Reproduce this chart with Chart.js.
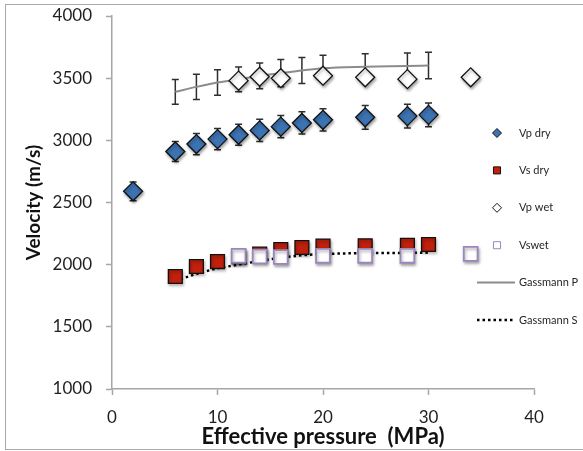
<!DOCTYPE html>
<html>
<head>
<meta charset="utf-8">
<script src="https://cdn.jsdelivr.net/npm/chart.js@4.4.0/dist/chart.umd.min.js"></script>
<style>
  html, body { margin: 0; padding: 0; background: #fff; overflow: hidden; }
  #wrap { position: relative; width: 583px; height: 451px; }
  #frame { position: absolute; left: 5px; top: 4px; width: 600px; height: 446px; border: 1px solid #a9a9a9; box-sizing: border-box; }
  canvas { position: absolute; left: 0; top: 0; }
</style>
</head>
<body>
<div id="wrap">
  <div id="frame"></div>
  <canvas id="velChart" width="583" height="451"></canvas>
</div>
<script>
// Velocity vs effective pressure
const vpDryP = [2, 6, 8, 10, 12, 14, 16, 18, 20, 24, 28, 30];
const vpDry = [2590, 2910, 2970, 3010, 3045, 3080, 3110, 3140, 3165, 3185, 3195, 3205];
const vpDryErr = [75, 80, 85, 85, 85, 90, 90, 90, 90, 95, 95, 95];

const vsDryP = [6, 8, 10, 12, 14, 16, 18, 20, 24, 28, 30];
const vsDry = [1905, 1985, 2025, 2065, 2085, 2122, 2138, 2150, 2152, 2155, 2162];

const wetP = [12, 14, 16, 20, 24, 28, 34];
const vpWet = [3480, 3512, 3500, 3520, 3507, 3492, 3507];
const vsWet = [2071, 2066, 2062, 2071, 2071, 2071, 2087];

const gassP = [6, 8, 10, 12, 14, 16, 18, 20, 24, 28, 30];
const gassmannP = [3390, 3430, 3465, 3490, 3518, 3540, 3562, 3580, 3592, 3598, 3602];
const gassmannPErr = [100, 102, 103, 100, 104, 110, 104, 105, 105, 105, 107];
const gassmannS = [1870, 1925, 1970, 2000, 2030, 2055, 2075, 2085, 2093, 2095, 2097];

const xTicks = [0, 10, 20, 30, 40];
const yTicks = [1000, 1500, 2000, 2500, 3000, 3500, 4000];

function pts(xs, ys) {
    return xs.map((x, i) => ({ x: x, y: ys[i] }));
}

const FONT = 'Lato, "Open Sans", sans-serif';

// error bars drawn under the markers
const errorBars = {
    id: 'errorBars',
    beforeDatasetsDraw(chart) {
        const ctx = chart.ctx;
        const xs = chart.scales.x, ys = chart.scales.y;
        ctx.save();
        ctx.strokeStyle = '#2e2e2e';
        ctx.lineWidth = 1.5;
        chart.data.datasets.forEach(ds => {
            if (!ds.errors) return;
            ds.data.forEach((p, i) => {
                const x = xs.getPixelForValue(p.x);
                const top = ys.getPixelForValue(p.y + ds.errors[i]);
                const bot = ys.getPixelForValue(p.y - ds.errors[i]);
                ctx.beginPath();
                ctx.moveTo(x, top); ctx.lineTo(x, bot);
                ctx.moveTo(x - 3.5, top); ctx.lineTo(x + 3.5, top);
                ctx.moveTo(x - 3.5, bot); ctx.lineTo(x + 3.5, bot);
                ctx.stroke();
            });
        });
        ctx.restore();
    }
};

// soft drop shadow on the markers, like the spreadsheet
const markerShadow = {
    id: 'markerShadow',
    beforeDatasetDraw(chart, args) {
        const ds = chart.data.datasets[args.index];
        const ctx = chart.ctx;
        ctx.save();
        if (ds.shadow) {
            ctx.shadowColor = 'rgba(0,0,0,0.35)';
            ctx.shadowBlur = 3;
            ctx.shadowOffsetX = 1;
            ctx.shadowOffsetY = 2;
        }
    },
    afterDatasetDraw(chart) {
        chart.ctx.restore();
    }
};

// legend on the right, one row per dataset
const sideLegend = {
    id: 'sideLegend',
    afterDraw(chart) {
        const ctx = chart.ctx;
        const o = chart.options.plugins.sideLegend;
        ctx.save();
        chart.data.datasets.forEach((ds, i) => {
            const y = o.top + i * o.step;
            ctx.fillStyle = ds.backgroundColor;
            ctx.strokeStyle = ds.borderColor;
            if (ds.showLine) {
                ctx.lineWidth = ds.borderWidth;
                ctx.setLineDash(ds.borderDash || []);
                ctx.beginPath();
                ctx.moveTo(o.lineStart, y);
                ctx.lineTo(o.lineEnd, y);
                ctx.stroke();
                ctx.setLineDash([]);
            } else {
                Chart.helpers.drawPoint(ctx, {
                    pointStyle: ds.pointStyle,
                    radius: ds.pointStyle === 'rectRot' ? 4.5 : 5,
                    rotation: 0,
                    borderWidth: 1.2
                }, o.markerX, y);
            }
            ctx.fillStyle = '#262626';
            ctx.font = '11px ' + FONT;
            ctx.textAlign = 'left';
            ctx.textBaseline = 'middle';
            ctx.fillText(ds.label, ds.showLine ? o.lineText : o.textX, y);
        });
        ctx.restore();
    }
};

const ctx1 = document.getElementById('velChart').getContext('2d');
const velChart = new Chart(ctx1, {
    type: 'scatter',
    data: {
        datasets: [
            {
                label: 'Vp dry',
                data: pts(vpDryP, vpDry),
                errors: vpDryErr,
                pointStyle: 'rectRot',
                pointRadius: 9.5,
                backgroundColor: '#3c73b2',
                borderColor: '#111111',
                borderWidth: 1.3,
                shadow: true,
                order: 4
            },
            {
                label: 'Vs dry',
                data: pts(vsDryP, vsDry),
                pointStyle: 'rect',
                pointRadius: 9.8,
                backgroundColor: '#c0200c',
                borderColor: '#111111',
                borderWidth: 1.3,
                shadow: true,
                order: 3
            },
            {
                label: 'Vp wet',
                data: pts(wetP, vpWet),
                pointStyle: 'rectRot',
                pointRadius: 9.5,
                backgroundColor: '#ffffff',
                borderColor: '#111111',
                borderWidth: 1.3,
                shadow: true,
                order: 2
            },
            {
                label: 'Vswet',
                data: pts(wetP, vsWet),
                pointStyle: 'rect',
                pointRadius: 9.8,
                backgroundColor: '#ffffff',
                borderColor: '#9c86bd',
                borderWidth: 1.8,
                shadow: true,
                order: 1
            },
            {
                label: 'Gassmann P',
                data: pts(gassP, gassmannP),
                errors: gassmannPErr,
                showLine: true,
                cubicInterpolationMode: 'monotone',
                pointRadius: 0,
                backgroundColor: '#8c8c8c',
                borderColor: '#8c8c8c',
                borderWidth: 2,
                order: 6
            },
            {
                label: 'Gassmann S',
                data: pts(gassP, gassmannS),
                showLine: true,
                cubicInterpolationMode: 'monotone',
                pointRadius: 0,
                backgroundColor: '#000000',
                borderColor: '#000000',
                borderWidth: 2.5,
                borderDash: [2.5, 3],
                order: 5
            }
        ]
    },
    options: {
        responsive: false,
        animation: false,
        layout: {
            padding: { left: 0, top: 16, right: 49, bottom: 0 }
        },
        scales: {
            x: {
                type: 'linear',
                min: 0,
                max: 40,
                afterFit: s => { s.height = 62; },
                afterBuildTicks: s => { s.ticks = xTicks.map(v => ({ value: v })); },
                ticks: {
                    padding: 12,
                    color: '#1f1f1f',
                    font: { family: FONT, size: 17 },
                    callback: v => String(v)
                },
                grid: {
                    drawOnChartArea: false,
                    drawTicks: true,
                    tickLength: 6,
                    tickColor: '#a6a6a6',
                    tickWidth: 1.5
                },
                border: { color: '#a6a6a6', width: 1.5 },
                title: {
                    display: true,
                    text: 'Effective pressure  (MPa)',
                    color: '#111111',
                    font: { family: FONT, size: 22, weight: 'bold' },
                    padding: { top: 0, bottom: 1 }
                }
            },
            y: {
                min: 1000,
                max: 4000,
                afterFit: s => { s.width = 112; s.paddingTop = 8; s.paddingBottom = 8; },
                afterBuildTicks: s => { s.ticks = yTicks.map(v => ({ value: v })); },
                ticks: {
                    padding: 14,
                    color: '#1f1f1f',
                    font: { family: FONT, size: 17 },
                    callback: v => String(v)
                },
                grid: {
                    drawOnChartArea: false,
                    drawTicks: true,
                    tickLength: 6,
                    tickColor: '#a6a6a6',
                    tickWidth: 1.5
                },
                border: { color: '#a6a6a6', width: 1.5 },
                title: {
                    display: true,
                    text: 'Velocity (m/s)',
                    color: '#111111',
                    font: { family: FONT, size: 19, weight: 'bold' },
                    padding: { top: 22, bottom: 0 }
                }
            }
        },
        plugins: {
            legend: { display: false },
            tooltip: { enabled: false },
            sideLegend: {
                top: 133,
                step: 37.4,
                markerX: 497,
                textX: 519,
                lineStart: 477,
                lineEnd: 515,
                lineText: 519
            }
        }
    },
    plugins: [errorBars, markerShadow, sideLegend]
});
</script>
</body>
</html>
